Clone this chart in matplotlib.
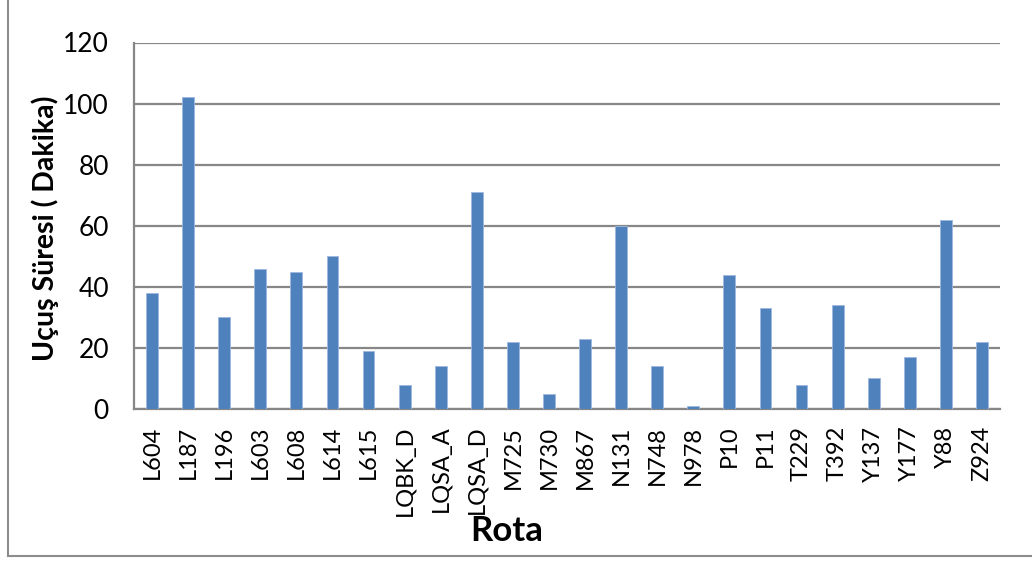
import matplotlib
matplotlib.use('Agg')
import matplotlib.pyplot as plt
from matplotlib.lines import Line2D
import numpy as np

# rota ve ucus suresi (dakika)
rotalar = ['L604', 'L187', 'L196', 'L603', 'L608', 'L614', 'L615', 'LQBK_D',
           'LQSA_A', 'LQSA_D', 'M725', 'M730', 'M867', 'N131', 'N748', 'N978',
           'P10', 'P11', 'T229', 'T392', 'Y137', 'Y177', 'Y88', 'Z924']
sureler = [38, 102, 30, 46, 45, 50, 19, 8, 14, 71, 22, 5, 23, 60, 14, 1,
           44, 33, 8, 34, 10, 17, 62, 22]
y_ticks = [0, 20, 40, 60, 80, 100, 120]

plt.rcParams['font.family'] = ['Lato', 'DejaVu Sans']

fig = plt.figure(figsize=(10.32, 5.61), dpi=100)
ax = fig.add_axes([134 / 1032, 1 - 409 / 561, 866 / 1032, 366.5 / 561])

x = np.arange(len(rotalar))
ax.bar(x, sureler, width=0.33, color='#4F81BD', edgecolor='#9DB9DE',
       linewidth=0.6, zorder=3)

ax.set_xlim(-0.5, len(rotalar) - 0.5)
ax.set_ylim(0, 120)
ax.set_yticks(y_ticks)
ax.set_xticks(x)
ax.set_xticklabels(rotalar, rotation=90, fontsize=17)
ax.tick_params(axis='y', labelsize=19, length=0, pad=18)
ax.tick_params(axis='x', length=0, pad=12)

ax.grid(axis='y', color='#878787', linewidth=1.6, zorder=0)
for s in ['top', 'right']:
    ax.spines[s].set_visible(False)
for s in ['left', 'bottom']:
    ax.spines[s].set_color('#878787')
    ax.spines[s].set_linewidth(1.6)

fig.text(45 / 1032, 1 - 228 / 561, 'Uçuş Süresi ( Dakika)', rotation=90,
         fontsize=20.5, fontweight='bold', ha='center', va='center')
fig.text(507 / 1032, 1 - 541 / 561, 'Rota', fontsize=25, fontweight='bold',
         ha='center', va='baseline')

# cerceve (sol ve alt kenar)
fig.add_artist(Line2D([8 / 1032, 8 / 1032], [1 - 556 / 561, 1.0],
                      transform=fig.transFigure, color='#8c8c8c', lw=1.5))
fig.add_artist(Line2D([8 / 1032, 1.0], [1 - 556 / 561, 1 - 556 / 561],
                      transform=fig.transFigure, color='#8c8c8c', lw=1.5))

fig.savefig('out.png', dpi=100)
